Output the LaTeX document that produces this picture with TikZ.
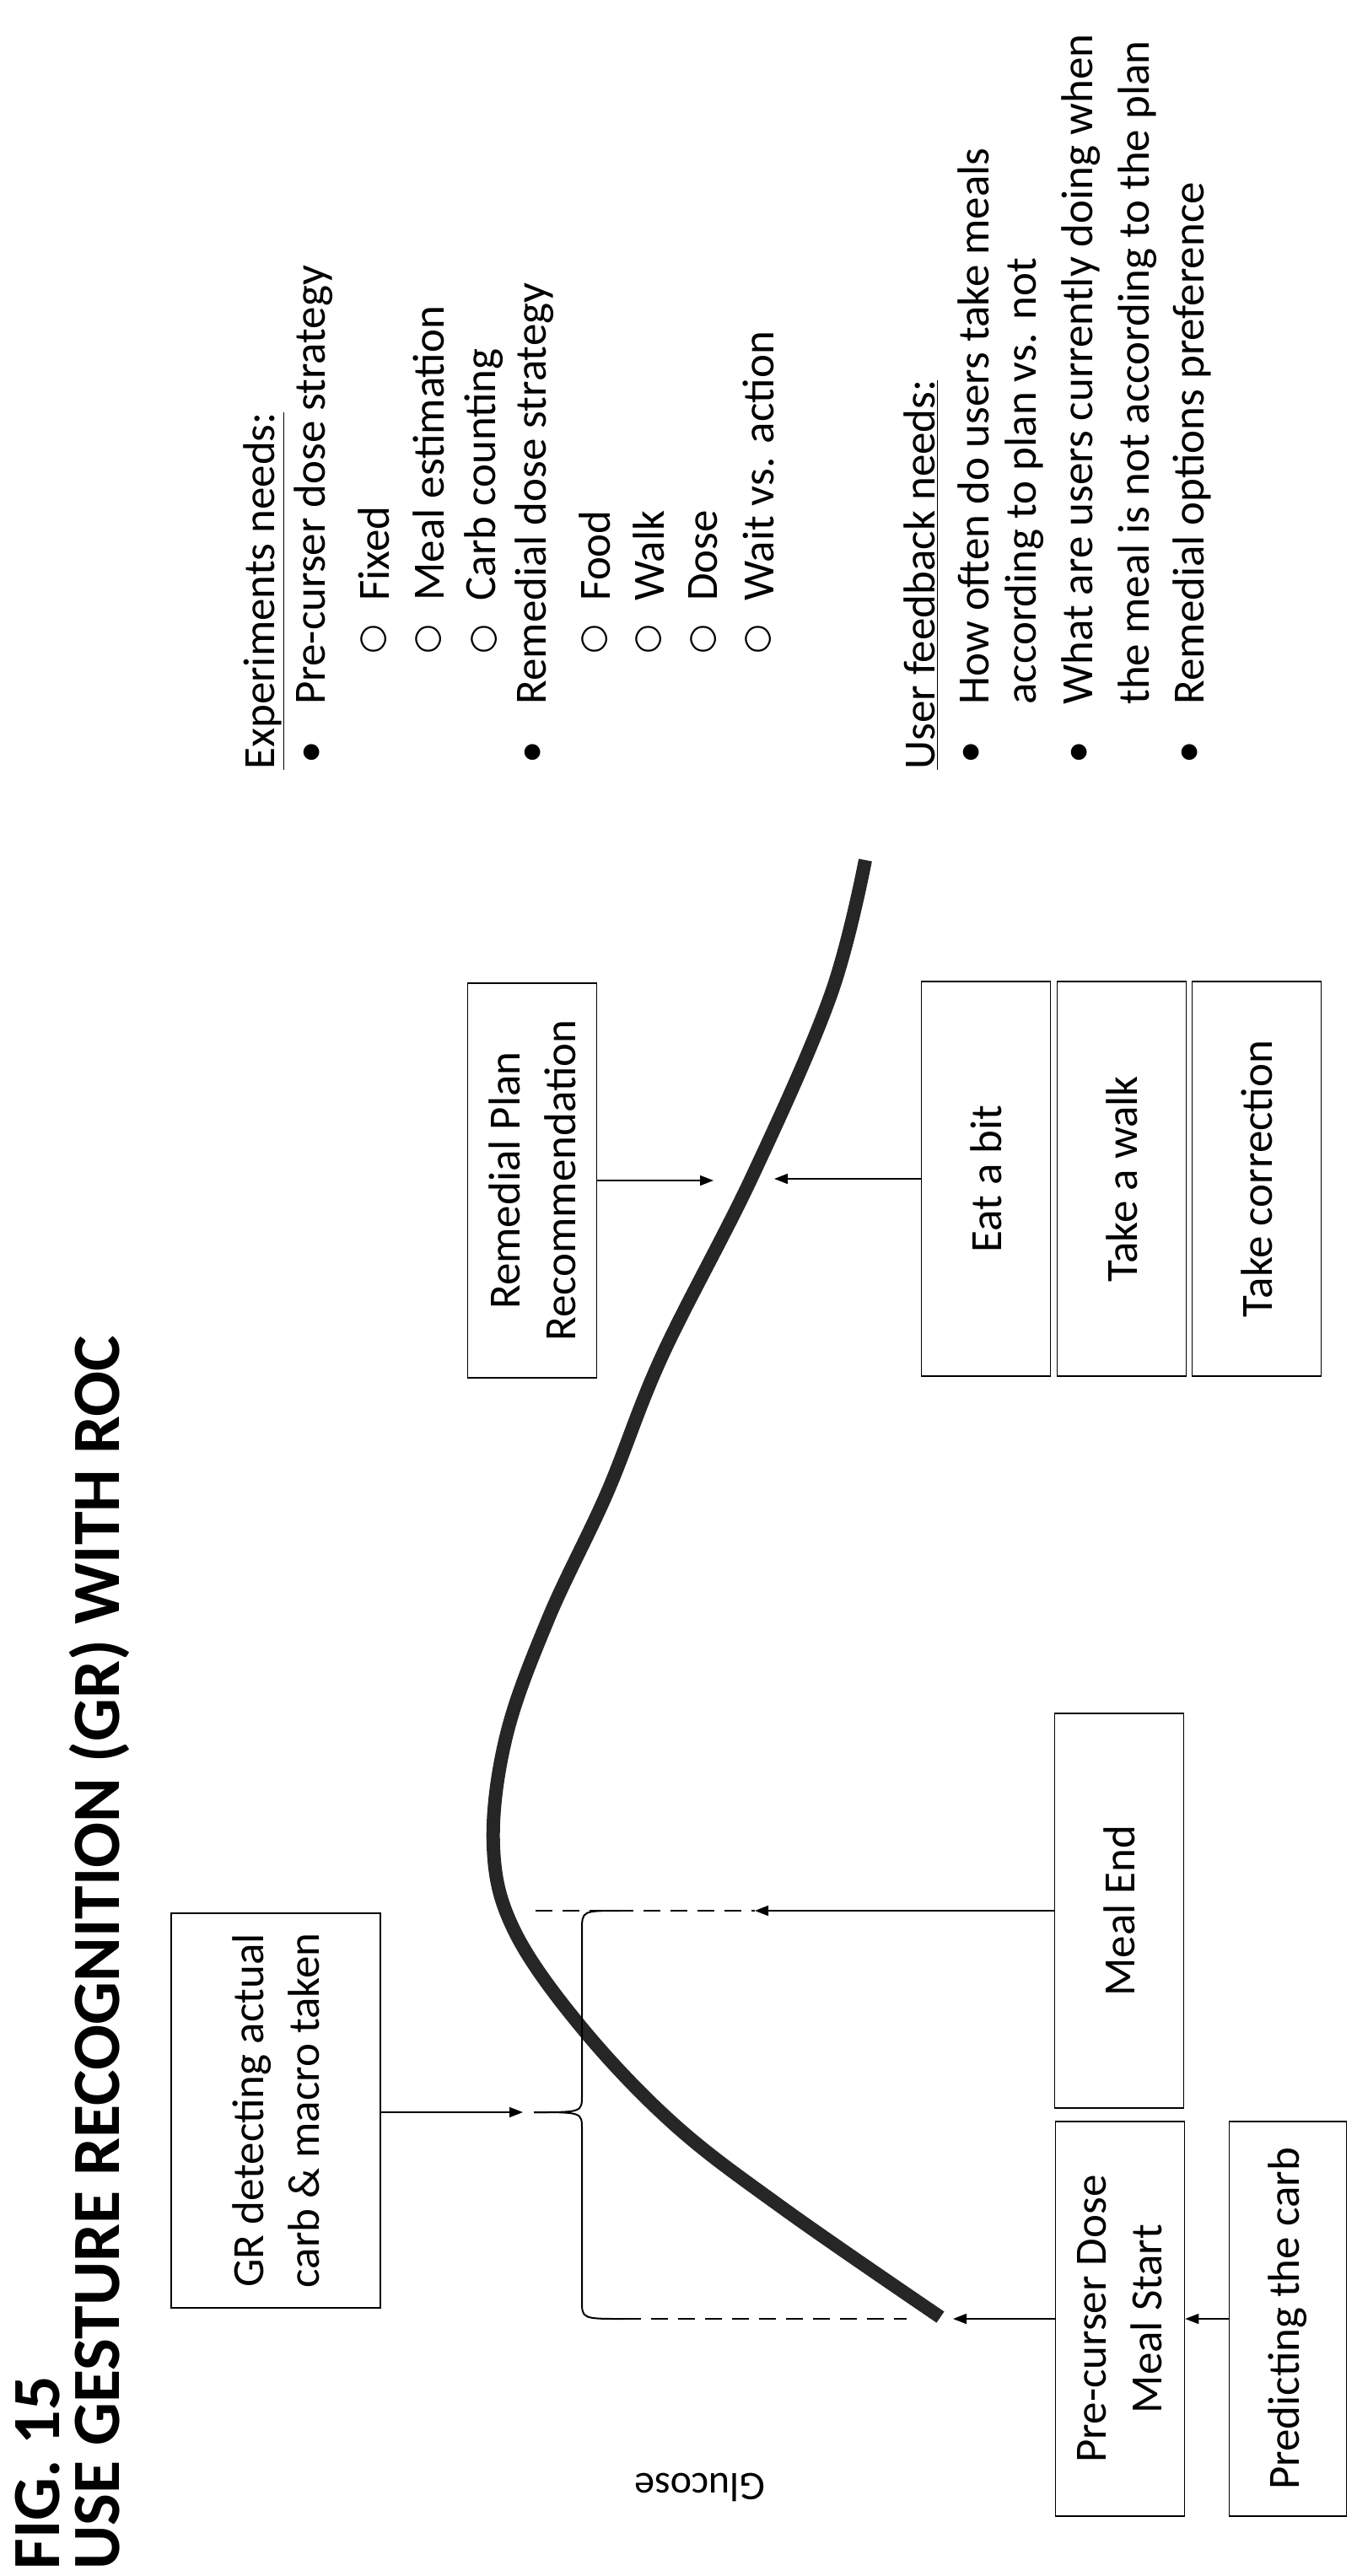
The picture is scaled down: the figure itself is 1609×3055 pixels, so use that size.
\documentclass[tikz,border=0pt]{standalone}
\usepackage{fontspec}
\setmainfont{Carlito}
\newfontfamily\symfont{DejaVu Sans}
\usetikzlibrary{arrows.meta, positioning, calc}

\begin{document}
\begin{tikzpicture}[
  x=0.5pt, y=-0.5pt,
  box/.style={rectangle, draw=black, line width=0.8pt, rotate=90, minimum width=234pt, minimum height=76.5pt, align=center, font=\fontsize{26.5}{33}\selectfont, inner sep=2pt},
  txt/.style={rotate=90, anchor=west, inner sep=0pt, font=\fontsize{26.5}{33}\selectfont},
  ttl/.style={rotate=90, anchor=west, inner sep=0pt, font=\fontsize{40}{44}\selectfont\bfseries},
  arrow/.style={-{Triangle[length=8pt, width=6pt]}, line width=0.8pt},
  curve/.style={line width=8pt, draw=black!85},
  guide/.style={dashed, dash pattern=on 10pt off 6pt, line width=0.8pt}
]
  \useasboundingbox (0,0) rectangle (1609,3055);

  % Title
  \node[ttl] (fig) at (45,3048) {FIG. 15};
  \node[ttl] (title) at (118,3048) {USE GESTURE RECOGNITION (GR) WITH ROC};

  % Axis label
  \node[rotate=180, font=\fontsize{24}{28}\selectfont] (glucose) at (830,2950) {Glucose};

  % Boxes
  \node[box, minimum height=124pt] (gr) at (327,2503) {GR detecting actual\\carb \& macro taken};
  \node[box] (mealend) at (1327,2266) {Meal End};
  \node[box] (pre) at (1328,2750) {Pre-curser Dose\\Meal Start};
  \node[box, minimum height=69.5pt] (predict) at (1527,2750) {Predicting the carb};
  \node[box] (remedial) at (631,1400) {Remedial Plan\\Recommendation};
  \node[box] (eat) at (1169,1398) {Eat a bit};
  \node[box] (walk) at (1330,1398) {Take a walk};
  \node[box] (corr) at (1490,1398) {Take correction};

  % Glucose curve
  \draw[curve] plot[smooth, tension=0.6] coordinates {(1026,1020) (985,1180) (892,1395) (785,1608) (720,1770) (650,1920) (600,2060) (585,2190) (610,2290) (690,2405) (800,2520) (930,2620) (1115,2748)};

  % Meal window
  \coordinate (tip) at (633,2505);
  \coordinate (gin) at (620,2505);
  \coordinate (mend) at (895,2266);
  \coordinate (cend) at (1130,2750);
  \coordinate (rin) at (846,1400);
  \coordinate (ein) at (918,1398);
  \draw[line width=1pt] (tip) .. controls (690,2505) .. (690,2485) -- (690,2290) .. controls (690,2266) .. (735,2266);
  \draw[line width=1pt] (tip) .. controls (690,2505) .. (690,2525) -- (690,2728) .. controls (690,2750) .. (740,2750);
  \draw[guide] (635,2266) -- (mend);
  \draw[guide] (740,2750) -- (1075,2750);

  % Arrows
  \draw[arrow] (gr.south |- gin) -- (gin);
  \draw[arrow] (mealend.north) -- (mend);
  \draw[arrow] (pre.north |- cend) -- (cend);
  \draw[arrow] (predict.north) -- (pre.south);
  \draw[arrow] (remedial.south) -- (rin);
  \draw[arrow] (eat.north) -- (ein);

  % Experiments needs
  \node[txt] (exp) at (313,913) {\underline{Experiments needs:}};
  \node[txt] at (372,906) {•};
  \node[txt] (pcd) at (372,836) {Pre-curser dose strategy};
  \foreach \x/\t in {443/Fixed, 508/Meal estimation, 574/Carb counting} {
    \node[txt] at (\x,776) {\symfont\fontsize{20}{24}\selectfont ○};
    \node[txt] at (\x,713) {\t};
  }
  \node[txt] at (634,906) {•};
  \node[txt] (rds) at (634,836) {Remedial dose strategy};
  \foreach \x/\t in {705/Food, 769/Walk, 834/Dose, 899/Wait vs. action} {
    \node[txt] at (\x,776) {\symfont\fontsize{20}{24}\selectfont ○};
    \node[txt] at (\x,713) {\t};
  }

  % User feedback needs
  \node[txt] (ufb) at (1092,913) {\underline{User feedback needs:}};
  \node[txt] at (1154,906) {•};
  \node[txt] at (1154,836) {How often do users take meals};
  \node[txt] at (1215,836) {according to plan vs. not};
  \node[txt] at (1282,906) {•};
  \node[txt] at (1282,836) {What are users currently doing when};
  \node[txt] at (1349,836) {the meal is not according to the plan};
  \node[txt] at (1413,906) {•};
  \node[txt] at (1413,836) {Remedial options preference};
\end{tikzpicture}
\end{document}
